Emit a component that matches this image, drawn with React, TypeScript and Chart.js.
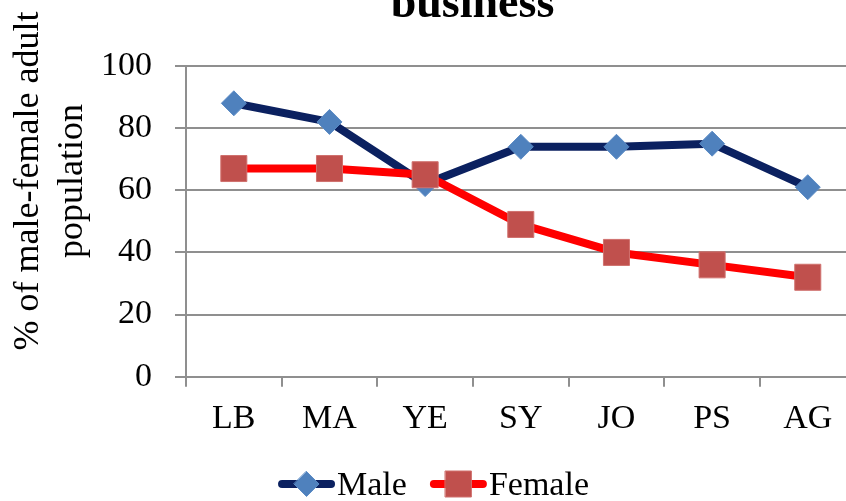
import React, { useEffect, useRef } from "react";
import { Chart, registerables } from "chart.js";

Chart.register(...registerables);

const categories = ["LB", "MA", "YE", "SY", "JO", "PS", "AG"];
const maleValues = [88, 82, 62, 74, 74, 75, 61];
const femaleValues = [67, 67, 65, 49, 40, 36, 32];
const yTicks = [0, 20, 40, 60, 80, 100];
const titleText = "business";
const yTitleLines = ["% of male-female adult", "population"];

const FONT = "'Liberation Serif', 'Times New Roman', serif";
const GRID = "#8f8f8f";

// The plot runs past the right edge of the page.
const CANVAS_W = 875;
const CANVAS_H = 501;

const titlePlugin = {
  id: "topTitle",
  afterDraw(chart: Chart) {
    const ctx = chart.ctx;
    ctx.save();
    ctx.fillStyle = "#000";
    ctx.font = `bold 46px ${FONT}`;
    ctx.textAlign = "center";
    ctx.textBaseline = "alphabetic";
    ctx.fillText(titleText, 472.5, 17);
    ctx.restore();
  },
};

const yTitlePlugin = {
  id: "yTitle",
  afterDraw(chart: Chart) {
    const ctx = chart.ctx;
    ctx.save();
    ctx.fillStyle = "#000";
    ctx.font = `36px ${FONT}`;
    ctx.textAlign = "center";
    ctx.textBaseline = "alphabetic";
    const cy = 181;
    const baselines = [38, 81.5];
    yTitleLines.forEach((line, i) => {
      ctx.save();
      ctx.translate(baselines[i], cy);
      ctx.rotate(-Math.PI / 2);
      ctx.fillText(line, 0, 0);
      ctx.restore();
    });
    ctx.restore();
  },
};

function drawMarker(
  ctx: CanvasRenderingContext2D,
  style: string,
  x: number,
  y: number,
  r: number,
  fill: string,
  stroke: string
) {
  ctx.beginPath();
  if (style === "rectRot") {
    ctx.moveTo(x, y - r);
    ctx.lineTo(x + r, y);
    ctx.lineTo(x, y + r);
    ctx.lineTo(x - r, y);
    ctx.closePath();
  } else {
    const s = r * Math.SQRT1_2;
    ctx.rect(x - s, y - s, 2 * s, 2 * s);
  }
  ctx.fillStyle = fill;
  ctx.fill();
  ctx.lineWidth = 1;
  ctx.strokeStyle = stroke;
  ctx.stroke();
}

const legendPlugin = {
  id: "lineLegend",
  afterDraw(chart: Chart) {
    const ctx = chart.ctx;
    ctx.save();
    ctx.font = `34px ${FONT}`;
    ctx.textBaseline = "alphabetic";
    ctx.textAlign = "left";
    const lineLen = 57;
    const textGap = 2;
    const itemGap = 23;
    const baseY = 495;
    const midY = baseY - 11;
    const items = chart.data.datasets.map((ds: any) => ({
      label: ds.label as string,
      ds,
      w: lineLen + textGap + ctx.measureText(ds.label).width,
    }));
    const total = items.reduce((s, it) => s + it.w, 0) + itemGap * (items.length - 1);
    let x = 433.5 - total / 2;
    items.forEach((it) => {
      const ds = it.ds;
      ctx.beginPath();
      ctx.lineCap = "round";
      ctx.lineWidth = ds.borderWidth;
      ctx.strokeStyle = ds.borderColor;
      ctx.moveTo(x + 4, midY);
      ctx.lineTo(x + lineLen - 4, midY);
      ctx.stroke();
      drawMarker(
        ctx,
        ds.pointStyle,
        x + lineLen / 2,
        midY,
        ds.pointRadius,
        ds.pointBackgroundColor,
        ds.pointBorderColor
      );
      ctx.fillStyle = "#000";
      ctx.fillText(it.label, x + lineLen + textGap, baseY);
      x += it.w + itemGap;
    });
    ctx.restore();
  },
};

export default function App() {
  const ref = useRef<HTMLCanvasElement | null>(null);

  useEffect(() => {
    if (!ref.current) return;
    const chart = new Chart(ref.current, {
      type: "line",
      data: {
        labels: categories,
        datasets: [
          {
            label: "Male",
            data: maleValues,
            borderColor: "#0b2160",
            borderWidth: 8,
            borderJoinStyle: "round",
            borderCapStyle: "round",
            pointStyle: "rectRot",
            pointRadius: 12.5,
            pointHoverRadius: 12.5,
            pointBackgroundColor: "#4f81bd",
            pointBorderColor: "#5a8ac4",
            pointBorderWidth: 1,
            order: 1,
            tension: 0,
          },
          {
            label: "Female",
            data: femaleValues,
            borderColor: "#ff0000",
            borderWidth: 8,
            borderJoinStyle: "round",
            borderCapStyle: "round",
            pointStyle: "rect",
            pointRadius: 18.4,
            pointHoverRadius: 18.4,
            pointBackgroundColor: "#c0504d",
            pointBorderColor: "#d0716e",
            pointBorderWidth: 1,
            order: 0,
            tension: 0,
          },
        ],
      },
      options: {
        responsive: false,
        animation: false,
        layout: { padding: { top: 66, right: 0, bottom: 64.3, left: 0 } },
        plugins: {
          legend: { display: false },
          tooltip: { enabled: false },
          title: { display: false },
        },
        scales: {
          x: {
            type: "category",
            offset: true,
            grid: {
              offset: true,
              drawOnChartArea: false,
              drawTicks: true,
              tickLength: 10,
              color: GRID,
              lineWidth: 2,
            },
            border: { display: true, color: GRID, width: 2 },
            ticks: {
              color: "#000",
              font: { family: FONT, size: 34, lineHeight: 1.2 },
              padding: 12,
              maxRotation: 0,
              autoSkip: false,
            },
            afterFit(scale: any) {
              scale.height = 60;
            },
          },
          y: {
            min: 0,
            max: 100,
            afterBuildTicks(scale: any) {
              scale.ticks = yTicks.map((v) => ({ value: v }));
            },
            grid: {
              drawTicks: true,
              tickLength: 11,
              color: GRID,
              lineWidth: 2,
            },
            border: { display: true, color: GRID, width: 2 },
            ticks: {
              color: "#000",
              font: { family: FONT, size: 34 },
              padding: 23,
            },
            afterFit(scale: any) {
              scale.width = 186;
            },
          },
        },
      },
      plugins: [titlePlugin, yTitlePlugin, legendPlugin],
    });
    return () => chart.destroy();
  }, []);

  return (
    <canvas
      ref={ref}
      width={CANVAS_W}
      height={CANVAS_H}
      style={{
        position: "fixed",
        left: 0,
        top: 0,
        width: CANVAS_W,
        height: CANVAS_H,
        background: "#fff",
      }}
    />
  );
}
